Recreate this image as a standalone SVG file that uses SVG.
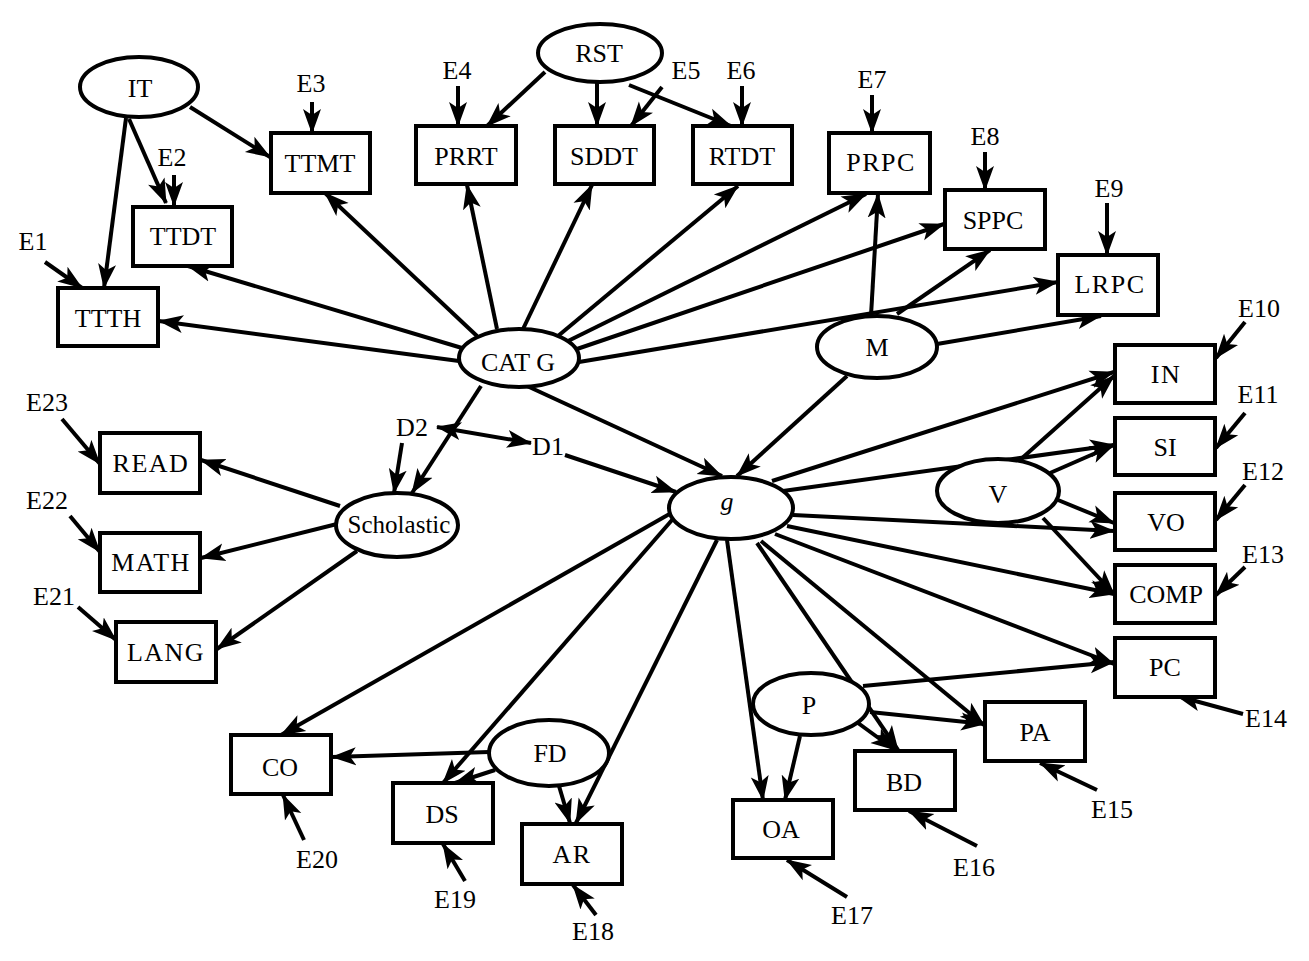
<svg xmlns="http://www.w3.org/2000/svg" width="1309" height="961" viewBox="0 0 1309 961">
<style>
.bg{fill:#fff}
.box{fill:#fff;stroke:#000;stroke-width:4}
.ell{fill:#fff;stroke:#000;stroke-width:4}
.t{font-family:"Liberation Serif","Times New Roman",serif;font-size:26px;fill:#000;text-anchor:middle}
.sp{letter-spacing:1.5px}
.it{font-style:italic}
.e{stroke:#000;stroke-width:4;fill:none;marker-end:url(#ah)}
.dbl{marker-start:url(#ah)}
</style>
<defs>
<marker id="ah" viewBox="0 0 25 20" refX="24" refY="10" markerWidth="25" markerHeight="20" markerUnits="userSpaceOnUse" orient="auto-start-reverse">
<path d="M0,1 L25,10 L0,19 L6,10 Z" fill="#000"/>
</marker>
</defs>
<rect class="bg" x="0" y="0" width="1309" height="961"/>
<g id="connectors">
<path class="e" d="M45,262 L82,288"/>
<path class="e" d="M174,175 L174,206"/>
<path class="e" d="M312,102 L312,133"/>
<path class="e" d="M458,86 L458,126"/>
<path class="e" d="M662,87 L631,126"/>
<path class="e" d="M742,86 L742,126"/>
<path class="e" d="M872,95 L872,133"/>
<path class="e" d="M985,152 L985,190"/>
<path class="e" d="M1107,203 L1107,255"/>
<path class="e" d="M1245,322 L1216,358"/>
<path class="e" d="M1245,413 L1216,448"/>
<path class="e" d="M1245,485 L1216,520"/>
<path class="e" d="M1245,567 L1216,595"/>
<path class="e" d="M1243,714 L1177,696"/>
<path class="e" d="M1097,790 L1040,763"/>
<path class="e" d="M977,846 L909,811"/>
<path class="e" d="M847,897 L787,860"/>
<path class="e" d="M596,915 L573,885"/>
<path class="e" d="M465,881 L443,844"/>
<path class="e" d="M304,840 L283,795"/>
<path class="e" d="M78,607 L116,640"/>
<path class="e" d="M70,516 L100,552"/>
<path class="e" d="M62,419 L100,464"/>
<path class="e" d="M402,443 L394,493"/>
<path class="e" d="M126,118 L104,288"/>
<path class="e" d="M129,119 L166,203"/>
<path class="e" d="M190,107 L270,157"/>
<path class="e" d="M477,336 L325,193"/>
<path class="e" d="M462,348 L188,266"/>
<path class="e" d="M459,361 L159,321"/>
<path class="e" d="M497,329 L467,185"/>
<path class="e" d="M523,329 L592,185"/>
<path class="e" d="M558,336 L738,186"/>
<path class="e" d="M566,342 L866,194"/>
<path class="e" d="M574,350 L944,224"/>
<path class="e" d="M579,362 L1058,282"/>
<path class="e" d="M545,72 L487,126"/>
<path class="e" d="M597,82 L597,126"/>
<path class="e" d="M629,85 L731,126"/>
<path class="e" d="M871,316 L878,194"/>
<path class="e" d="M897,314 L990,250"/>
<path class="e" d="M937,344 L1101,316"/>
<path class="e" d="M847,376 L737,476"/>
<path class="e" d="M527,386 L722,476"/>
<path class="e" d="M481,386 L412,493"/>
<path class="e dbl" d="M437,427 L531,443"/>
<path class="e" d="M565,455 L676,492"/>
<path class="e" d="M340,506 L201,460"/>
<path class="e" d="M337,524 L201,558"/>
<path class="e" d="M357,551 L217,649"/>
<path class="e" d="M772,481 L1114,372"/>
<path class="e" d="M1020,460 L1114,376"/>
<path class="e" d="M783,491 L1114,445"/>
<path class="e" d="M1050,473 L1114,445"/>
<path class="e" d="M1058,500 L1114,523"/>
<path class="e" d="M793,515 L1114,531"/>
<path class="e" d="M1043,518 L1114,594"/>
<path class="e" d="M787,526 L1114,594"/>
<path class="e" d="M775,534 L1114,664"/>
<path class="e" d="M863,686 L1114,662"/>
<path class="e" d="M870,712 L985,724"/>
<path class="e" d="M761,541 L984,725"/>
<path class="e" d="M757,543 L898,750"/>
<path class="e" d="M858,723 L895,750"/>
<path class="e" d="M727,540 L763,800"/>
<path class="e" d="M800,736 L785,800"/>
<path class="e" d="M717,540 L576,823"/>
<path class="e" d="M559,786 L570,823"/>
<path class="e" d="M672,520 L443,783"/>
<path class="e" d="M673,512 L281,735"/>
<path class="e" d="M489,752 L332,757"/>
<path class="e" d="M495,770 L455,783"/>
</g>
<g id="labels">
<text class="t" x="33" y="250">E1</text>
<text class="t" x="172" y="166">E2</text>
<text class="t" x="311" y="92">E3</text>
<text class="t" x="457" y="79">E4</text>
<text class="t" x="686" y="79">E5</text>
<text class="t" x="741" y="79">E6</text>
<text class="t" x="872" y="88">E7</text>
<text class="t" x="985" y="145">E8</text>
<text class="t" x="1109" y="197">E9</text>
<text class="t" x="1259" y="317">E10</text>
<text class="t" x="1258" y="403">E11</text>
<text class="t" x="1263" y="480">E12</text>
<text class="t" x="1263" y="563">E13</text>
<text class="t" x="1266" y="727">E14</text>
<text class="t" x="1112" y="818">E15</text>
<text class="t" x="974" y="876">E16</text>
<text class="t" x="852" y="924">E17</text>
<text class="t" x="593" y="940">E18</text>
<text class="t" x="455" y="908">E19</text>
<text class="t" x="317" y="868">E20</text>
<text class="t" x="54" y="605">E21</text>
<text class="t" x="47" y="509">E22</text>
<text class="t" x="47" y="411">E23</text>
<text class="t" x="412" y="436">D2</text>
<text class="t" x="548" y="455">D1</text>
</g>
<g id="n-IT"><ellipse class="ell" cx="139" cy="87" rx="59" ry="30"/><text class="t" x="140" y="97">IT</text></g>
<g id="n-TTTH"><rect class="box" x="58" y="288" width="100" height="58"/><text class="t" x="108" y="327">TTTH</text></g>
<g id="n-TTDT"><rect class="box" x="133" y="207" width="99" height="59"/><text class="t" x="183" y="245">TTDT</text></g>
<g id="n-TTMT"><rect class="box" x="271" y="133" width="99" height="60"/><text class="t" x="320" y="172">TTMT</text></g>
<g id="n-RST"><ellipse class="ell" cx="600" cy="53" rx="62" ry="29"/><text class="t" x="599" y="62">RST</text></g>
<g id="n-PRRT"><rect class="box" x="416" y="126" width="100" height="58"/><text class="t" x="466" y="165">PRRT</text></g>
<g id="n-SDDT"><rect class="box" x="555" y="126" width="99" height="58"/><text class="t" x="604" y="165">SDDT</text></g>
<g id="n-RTDT"><rect class="box" x="693" y="126" width="99" height="58"/><text class="t" x="742" y="165">RTDT</text></g>
<g id="n-CATG"><ellipse class="ell" cx="519" cy="358" rx="60" ry="29"/><text class="t" x="518" y="371">CAT G</text></g>
<g id="n-PRPC"><rect class="box" x="829" y="133" width="101" height="60"/><text class="t sp" x="881" y="171">PRPC</text></g>
<g id="n-SPPC"><rect class="box" x="945" y="190" width="100" height="59"/><text class="t" x="993" y="229">SPPC</text></g>
<g id="n-LRPC"><rect class="box" x="1058" y="255" width="100" height="60"/><text class="t sp" x="1110" y="293">LRPC</text></g>
<g id="n-M"><ellipse class="ell" cx="877" cy="347" rx="60" ry="31"/><text class="t" x="877" y="356">M</text></g>
<g id="n-IN"><rect class="box" x="1115" y="345" width="100" height="58"/><text class="t sp" x="1166" y="383">IN</text></g>
<g id="n-SI"><rect class="box" x="1115" y="418" width="100" height="57"/><text class="t" x="1165" y="456">SI</text></g>
<g id="n-VO"><rect class="box" x="1115" y="493" width="100" height="57"/><text class="t" x="1166" y="531">VO</text></g>
<g id="n-COMP"><rect class="box" x="1115" y="565" width="100" height="58"/><text class="t" x="1166" y="603">COMP</text></g>
<g id="n-PC"><rect class="box" x="1115" y="638" width="100" height="59"/><text class="t" x="1165" y="676">PC</text></g>
<g id="n-V"><ellipse class="ell" cx="998" cy="491" rx="61" ry="32"/><text class="t" x="998" y="503">V</text></g>
<g id="n-g"><ellipse class="ell" cx="731" cy="508" rx="62" ry="31"/><text class="t it" x="727" y="510">g</text></g>
<g id="n-Scholastic"><ellipse class="ell" cx="397" cy="525" rx="61" ry="32"/><text class="t" x="399" y="533" style="font-size:25px">Scholastic</text></g>
<g id="n-READ"><rect class="box" x="100" y="433" width="100" height="60"/><text class="t sp" x="151" y="472">READ</text></g>
<g id="n-MATH"><rect class="box" x="100" y="533" width="100" height="59"/><text class="t sp" x="151" y="571">MATH</text></g>
<g id="n-LANG"><rect class="box" x="116" y="622" width="100" height="60"/><text class="t sp" x="166" y="661">LANG</text></g>
<g id="n-CO"><rect class="box" x="231" y="735" width="100" height="59"/><text class="t" x="280" y="776">CO</text></g>
<g id="n-DS"><rect class="box" x="393" y="783" width="100" height="60"/><text class="t" x="442" y="823">DS</text></g>
<g id="n-AR"><rect class="box" x="522" y="824" width="100" height="60"/><text class="t sp" x="572" y="863">AR</text></g>
<g id="n-FD"><ellipse class="ell" cx="549" cy="753" rx="60" ry="33"/><text class="t" x="550" y="762">FD</text></g>
<g id="n-OA"><rect class="box" x="733" y="800" width="100" height="58"/><text class="t" x="781" y="838">OA</text></g>
<g id="n-BD"><rect class="box" x="855" y="751" width="100" height="59"/><text class="t" x="904" y="791">BD</text></g>
<g id="n-PA"><rect class="box" x="985" y="702" width="100" height="59"/><text class="t" x="1035" y="741">PA</text></g>
<g id="n-P"><ellipse class="ell" cx="811" cy="704" rx="58" ry="31"/><text class="t" x="809" y="714">P</text></g>
</svg>
